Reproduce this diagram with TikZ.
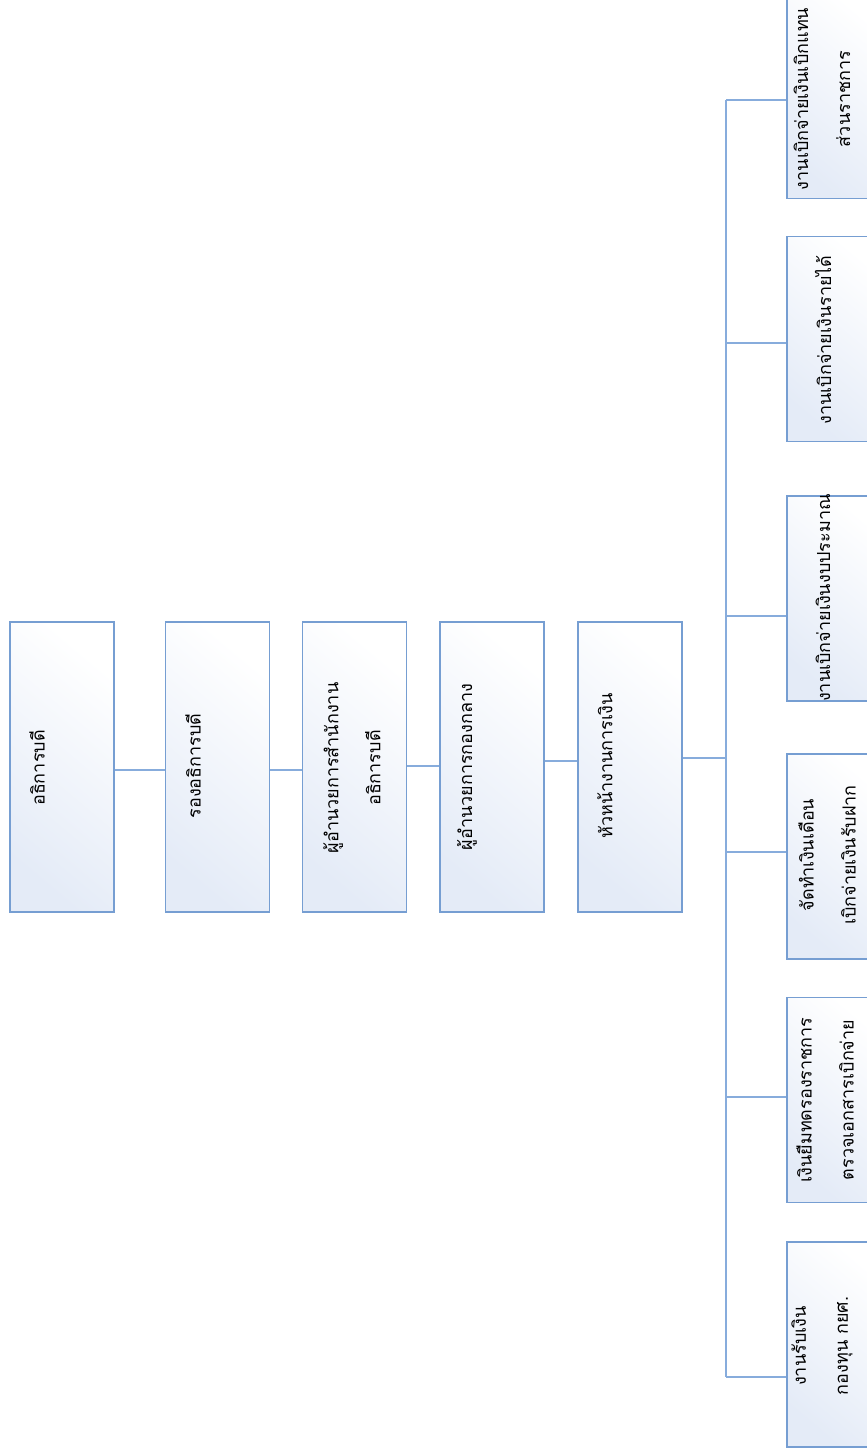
\documentclass[tikz,border=0pt]{standalone}
\usepackage{fontspec}
\newfontfamily\thai[Script=Thai]{Loma}
\definecolor{boxline}{RGB}{118,158,210}
\definecolor{conn}{RGB}{135,172,220}
\definecolor{boxfill}{RGB}{228,235,247}
\tikzset{
  box/.style={draw=boxline, line width=1.6pt, shading=axis, top color=white, bottom color=boxfill, shading angle=-40, inner sep=0pt},
  pbox/.style={box, minimum width=104pt, minimum height=290pt},
  cbox/.style={box, minimum width=100pt, minimum height=205pt},
  lbl/.style={rotate=90, inner sep=0pt, font=\thai\fontsize{18}{42}\selectfont, align=center, text=black},
  link/.style={draw=conn, line width=1.3pt}
}
\begin{document}
\begin{tikzpicture}[x=1pt,y=-1pt]
\useasboundingbox (0,0) rectangle (867,1456);
\clip (0,0) rectangle (867,1456);
% parent chain
\node[pbox] (b1) at (62,767) {};
\node[pbox] (b2) at (217.5,767) {};
\node[pbox] (b3) at (354.5,767) {};
\node[pbox] (b4) at (492,767) {};
\node[pbox] (b5) at (630,767) {};
\node[lbl] (t1) at (37,768) {อธิการบดี};
\node[lbl] (t2) at (193,766) {รองอธิการบดี};
\node[lbl] (t3) at (352,768) {ผู้อำนวยการสำนักงาน\\อธิการบดี};
\node[lbl] (t4) at (467,767) {ผู้อำนวยการกองกลาง};
\node[lbl] (t5) at (605,766) {หัวหน้างานการเงิน};
% children
\node[cbox] (c1) at (837,96) {};
\node[cbox] (c2) at (837,339) {};
\node[cbox] (c3) at (837,598.5) {};
\node[cbox] (c4) at (837,856.5) {};
\node[cbox] (c5) at (837,1100) {};
\node[cbox] (c6) at (837,1344.5) {};
\node[lbl] (u1) at (822,99) {งานเบิกจ่ายเงินเบิกแทน\\ส่วนราชการ};
\node[lbl] (u2) at (823,340) {งานเบิกจ่ายเงินรายได้};
\node[lbl] (u3) at (823,598) {งานเบิกจ่ายเงินงบประมาณ};
\node[lbl] (u4) at (827,855) {จัดทำเงินเดือน\\เบิกจ่ายเงินรับฝาก};
\node[lbl] (u5) at (825,1100) {เงินยืมทดรองราชการ\\ตรวจเอกสารเบิกจ่าย};
\node[lbl] (u6) at (822,1346) {งานรับเงิน\\กองทุน กยศ.};
% connectors along the chain
\draw[link] ([yshift=-3pt]b1.east) -- ([yshift=-3pt]b2.west);
\draw[link] ([yshift=-3pt]b2.east) -- ([yshift=-3pt]b3.west);
\draw[link] ([yshift=1pt]b3.east) -- ([yshift=1pt]b4.west);
\draw[link] ([yshift=6pt]b4.east) -- ([yshift=6pt]b5.west);
% bus
\coordinate (j0) at (726,758);
\coordinate (j1) at (726,100);
\coordinate (j2) at (726,343);
\coordinate (j3) at (726,616);
\coordinate (j4) at (726,852);
\coordinate (j5) at (726,1097);
\coordinate (j6) at (726,1377);
\draw[link] (b5.east |- j0) -- (j0);
\draw[link] (j1) -- (j6);
\draw[link] (j1) -- (j1 -| c1.west);
\draw[link] (j2) -- (j2 -| c2.west);
\draw[link] (j3) -- (j3 -| c3.west);
\draw[link] (j4) -- (j4 -| c4.west);
\draw[link] (j5) -- (j5 -| c5.west);
\draw[link] (j6) -- (j6 -| c6.west);
\end{tikzpicture}
\end{document}
